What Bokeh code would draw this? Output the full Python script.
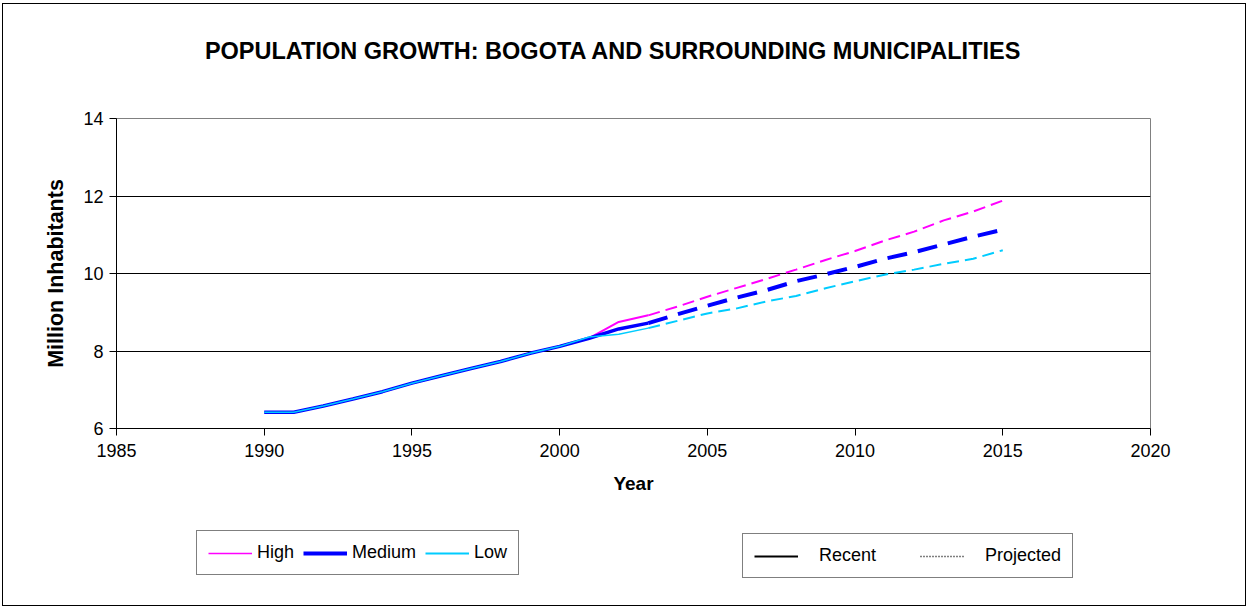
from bokeh.plotting import figure
from bokeh.layouts import column
from bokeh.models import (Range1d, FixedTicker, Legend, LegendItem, Label,
                          ColumnDataSource)
from bokeh.embed import file_html
from bokeh.resources import INLINE

# ---------------- data ----------------
years = [1990, 1991, 1992, 1993, 1994, 1995, 1996, 1997, 1998, 1999, 2000,
         2001, 2002, 2003, 2004, 2005, 2006, 2007, 2008, 2009, 2010,
         2011, 2012, 2013, 2014, 2015]
high = [6.42, 6.42, 6.58, 6.76, 6.95, 7.17, 7.36, 7.55, 7.73, 7.94, 8.12,
        8.33, 8.75, 8.92, 9.15, 9.40, 9.63, 9.86, 10.10, 10.35, 10.58,
        10.85, 11.08, 11.37, 11.60, 11.88]
medium = [6.42, 6.42, 6.58, 6.76, 6.95, 7.17, 7.36, 7.55, 7.73, 7.94, 8.12,
          8.33, 8.57, 8.72, 8.95, 9.17, 9.38, 9.57, 9.80, 9.98, 10.17,
          10.38, 10.55, 10.75, 10.95, 11.13]
low = [6.42, 6.42, 6.58, 6.76, 6.95, 7.17, 7.36, 7.55, 7.73, 7.94, 8.12,
       8.36, 8.43, 8.59, 8.78, 8.97, 9.10, 9.28, 9.42, 9.62, 9.80,
       9.97, 10.10, 10.25, 10.38, 10.60]
last_recent_year = 2003
x_ticks = [1985, 1990, 1995, 2000, 2005, 2010, 2015, 2020]
y_ticks = [6, 8, 10, 12, 14]
title_text = "POPULATION GROWTH: BOGOTA AND SURROUNDING MUNICIPALITIES"
series_names = ["High", "Medium", "Low"]
status_names = ["Recent", "Projected"]

FONT = "Liberation Sans"
W = 1242
BL, BR = 113, 95  # left / right borders (frames aligned across the column)

colors = {"High": "#FF00FF", "Medium": "#0000FF", "Low": "#00CCFF"}
rwidths = {"High": 2, "Medium": 3.5, "Low": 1.5}
pwidths = {"High": 2, "Medium": 4, "Low": 2}
dashes = {"High": "12 6", "Medium": "20 11", "Low": "12 6"}
values = {"High": high, "Medium": medium, "Low": low}


def blank(height):
    f = figure(width=W, height=height, output_backend="svg", toolbar_location=None,
               x_axis_location=None, y_axis_location=None,
               x_range=Range1d(0, 1), y_range=Range1d(0, 1),
               min_border_left=BL, min_border_right=BR, min_border_top=0,
               min_border_bottom=0)
    f.outline_line_color = None
    for g in f.grid:
        g.visible = False
    f.background_fill_color = "white"
    f.border_fill_color = "white"
    return f


# ---------------- title strip ----------------
p_top = blank(94)
p_top.add_layout(Label(x=497, y=48, x_units="screen", y_units="screen",
                       text=title_text, text_font=FONT, text_font_style="bold",
                       text_font_size="23.5px", text_align="center",
                       text_baseline="middle", text_color="black"))

# ---------------- main chart ----------------
p = figure(width=W, height=417, output_backend="svg", toolbar_location=None,
           x_range=Range1d(1985, 2020), y_range=Range1d(6, 14),
           min_border_left=BL, min_border_right=BR, min_border_top=20,
           min_border_bottom=87)
p.background_fill_color = "white"
p.border_fill_color = "white"
p.outline_line_color = "#808080"
p.outline_line_width = 1

for ax in (p.xaxis[0], p.yaxis[0]):
    ax.axis_line_color = "black"
    ax.major_tick_line_color = "black"
    ax.major_tick_out = 7
    ax.major_tick_in = 0
    ax.minor_tick_out = 0
    ax.minor_tick_in = 0
    ax.major_label_text_font = FONT
    ax.major_label_text_font_size = "18px"
    ax.major_label_text_color = "black"
    ax.axis_label_text_font = FONT
    ax.axis_label_text_font_style = "bold"
    ax.axis_label_text_color = "black"
p.xaxis[0].ticker = FixedTicker(ticks=x_ticks)
p.yaxis[0].ticker = FixedTicker(ticks=y_ticks)
p.xaxis[0].axis_label = "Year"
p.xaxis[0].axis_label_text_font_size = "19px"
p.xaxis[0].major_label_standoff = 8
p.xaxis[0].axis_label_standoff = 13
p.yaxis[0].axis_label = "Million Inhabitants"
p.yaxis[0].axis_label_text_font_size = "21.5px"
p.yaxis[0].major_label_standoff = 6
p.yaxis[0].axis_label_standoff = 12

p.xgrid.visible = False
p.ygrid[0].ticker = FixedTicker(ticks=y_ticks)
p.ygrid.grid_line_color = "black"
p.ygrid.grid_line_width = 1

k = years.index(last_recent_year)
for name in series_names:
    vals = values[name]
    src_r = ColumnDataSource(dict(x=years[:k + 1], y=vals[:k + 1]))
    src_p = ColumnDataSource(dict(x=years[k:], y=vals[k:]))
    p.line("x", "y", source=src_r, line_color=colors[name],
           line_width=rwidths[name])
    p.line("x", "y", source=src_p, line_color=colors[name],
           line_width=pwidths[name], line_dash=dashes[name])

# ---------------- legend strip ----------------
NAN = float("nan")
p_leg = blank(90)
leg_widths = {"High": 1.5, "Medium": 4, "Low": 2}
items1 = []
for name in series_names:
    r = p_leg.line(x=[NAN], y=[NAN], line_color=colors[name], line_width=leg_widths[name])
    items1.append(LegendItem(label=name, renderers=[r]))
rec_proxy = p_leg.line(x=[NAN], y=[NAN], line_color="black", line_width=2)
proj_proxy = p_leg.line(x=[NAN], y=[NAN], line_color="black", line_width=1.3, line_dash="1 2")
items2 = [LegendItem(label=status_names[0], renderers=[rec_proxy]),
          LegendItem(label=status_names[1], renderers=[proj_proxy])]

common = dict(orientation="horizontal", label_text_font=FONT,
              label_text_font_size="18px", label_text_color="black",
              glyph_width=44, padding=11,
              margin=0, border_line_color="black", border_line_width=1,
              background_fill_alpha=1, label_height=20)
leg1 = Legend(items=items1, location=(80, 30), label_standoff=5, spacing=9, **common)
leg2 = Legend(items=items2, location=(626, 27), label_standoff=21, spacing=44,
              **common)
p_leg.add_layout(leg1, "center")
p_leg.add_layout(leg2, "center")

layout = column(p_top, p, p_leg, spacing=0,
                styles={"border": "1px solid black", "margin-left": "2px",
                        "margin-top": "3px"})

open("out.html", "w").write(file_html(layout, INLINE))
